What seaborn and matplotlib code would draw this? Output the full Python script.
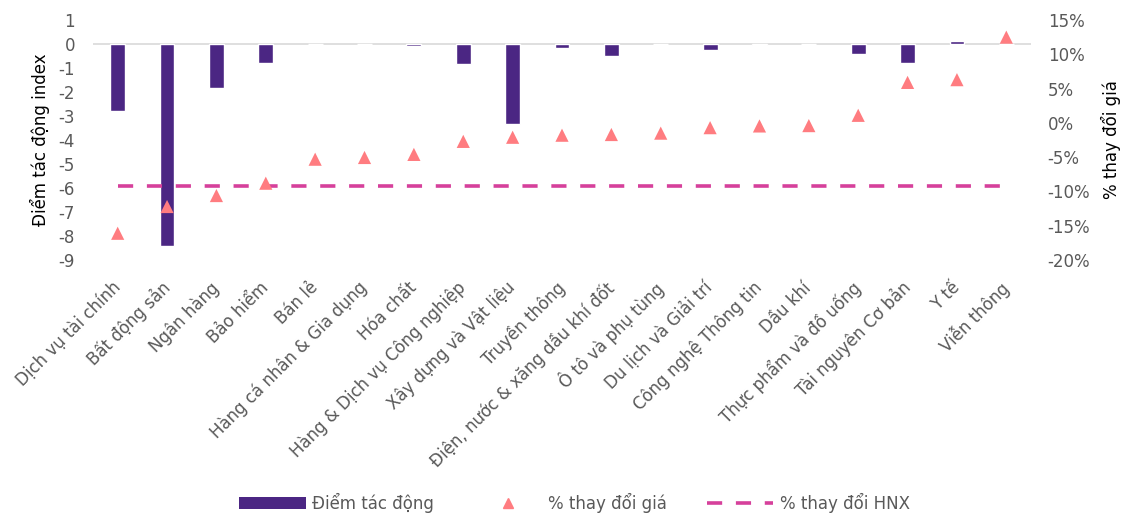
import numpy as np
import matplotlib
matplotlib.use("Agg")
import matplotlib.pyplot as plt
from matplotlib.patches import Patch
from matplotlib.lines import Line2D
from matplotlib.ticker import FuncFormatter, MultipleLocator
import seaborn as sns

# ---------------- data ----------------
categories = [
    "Dịch vụ tài chính", "Bất động sản", "Ngân hàng", "Bảo hiểm", "Bán lẻ",
    "Hàng cá nhân & Gia dụng", "Hóa chất", "Hàng & Dịch vụ Công nghiệp",
    "Xây dựng và Vật liệu", "Truyền thông", "Điện, nước & xăng dầu khí đốt",
    "Ô tô và phụ tùng", "Du lịch và Giải trí", "Công nghệ Thông tin", "Dầu khí",
    "Thực phẩm và đồ uống", "Tài nguyên Cơ bản", "Y tế", "Viễn thông",
]
impact_points = [-2.8, -8.4, -1.85, -0.79, 0.0, 0.02, -0.1, -0.85, -3.35, -0.15,
                 -0.51, 0.0, -0.24, -0.03, 0.0, -0.43, -0.78, 0.12, 0.0]
price_change_pct = [-16.1, -12.2, -10.6, -8.8, -5.3, -5.05, -4.6, -2.7, -2.1, -1.8,
                    -1.7, -1.5, -0.7, -0.45, -0.4, 1.1, 5.9, 6.3, 12.5]
hnx_change_pct = [-9.2] * len(categories)

legend_labels = ["Điểm tác động", "% thay đổi giá", "% thay đổi HNX"]
left_label = "Điểm tác động index"
right_label = "% thay đổi giá"

# ---------------- style ----------------
BAR = "#4B2683"
TRI = "#FF7C80"
DASH = "#D6409B"
TICK = "#595959"

sns.set_style("white")
plt.rcParams["font.family"] = ["DejaVu Sans"]
plt.rcParams["axes.unicode_minus"] = False

fig = plt.figure(figsize=(11.22, 5.13), dpi=100)
ax = fig.add_axes([93 / 1122, 1 - 260 / 513, (1031 - 93) / 1122, 240 / 513])

pos = np.arange(len(categories))
ax.axhline(0, color="#D9D9D9", lw=1.2, zorder=0)
sns.barplot(x=pos, y=impact_points, ax=ax, color=BAR, width=0.3,
            saturation=1, native_scale=True, zorder=2)
ax.set_xlim(-0.5, len(categories) - 0.5)
ax.set_ylim(-9, 1)
ax.yaxis.set_major_locator(MultipleLocator(1))
ax.set_xticks(pos)
ax.set_xticklabels(categories)
plt.setp(ax.get_xticklabels(), rotation=45, ha="right", va="center",
         rotation_mode="anchor")
ax.tick_params(axis="x", length=0, pad=18, labelsize=12, colors=TICK)
ax.tick_params(axis="y", length=0, pad=13, labelsize=12, colors=TICK)
ax.set_ylabel(left_label, fontsize=12, color="#000000", labelpad=6)
ax.set_xlabel("")

ax2 = ax.twinx()
sns.lineplot(x=pos, y=hnx_change_pct, ax=ax2, color=DASH, lw=2.6,
             dashes=False, zorder=3)
for ln in ax2.get_lines():
    ln.set_dashes((4.2, 3.8))
sns.scatterplot(x=pos, y=price_change_pct, ax=ax2, marker="^", s=90,
                color=TRI, edgecolor="none", linewidth=0, zorder=4)
ax2.set_ylim(-20, 15)
ax2.yaxis.set_major_locator(MultipleLocator(5))
ax2.yaxis.set_major_formatter(FuncFormatter(lambda v, p: f"{v:.0f}%"))
ax2.tick_params(axis="y", length=0, pad=12, labelsize=12, colors=TICK)
ax2.set_ylabel(right_label, fontsize=12, color="#000000", labelpad=8)

for a in (ax, ax2):
    for s in a.spines.values():
        s.set_visible(False)
    a.grid(False)

handles = [
    Patch(facecolor=BAR, edgecolor="none"),
    Line2D([], [], marker="^", ls="none", color=TRI, markersize=7),
    Line2D([], [], ls=(0, (4.2, 3.8)), color=DASH, lw=2.6),
]
leg = fig.legend(handles, legend_labels, loc="center", bbox_to_anchor=(0.512, 0.02),
                 ncol=3, frameon=False, fontsize=12, handlelength=4,
                 handletextpad=0.4, columnspacing=2.4)
for t in leg.get_texts():
    t.set_color(TICK)

fig.savefig("out.png", dpi=100)
